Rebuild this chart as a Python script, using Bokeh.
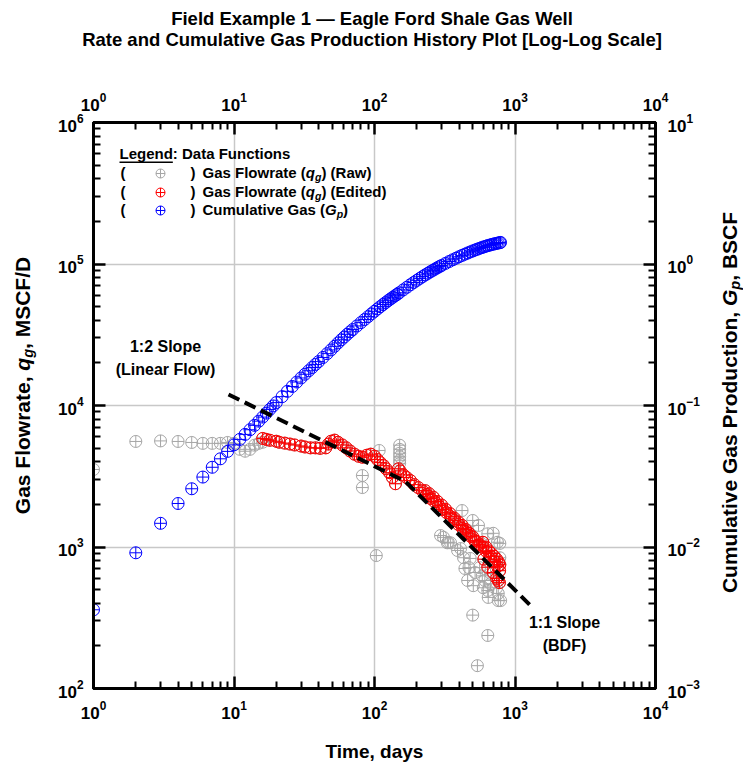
import math
from bokeh.plotting import figure
from bokeh.layouts import column, row
from bokeh.models import Range1d, LogScale, LogAxis, FixedTicker, Label, BoxAnnotation
from bokeh.embed import file_html
from bokeh.resources import INLINE

# ---------------- data ----------------
# Raw gas flowrate points that are not part of the edited set (early days + outliers)
raw_days = [1, 2, 3, 4, 5, 6, 7, 8, 9, 10, 11, 12, 13, 14, 15, 16,
            82, 82, 103, 108,
            151, 151, 151, 151, 151, 151,
            295, 310, 330, 335, 348, 390, 410, 420, 430, 440,
            460, 460, 470, 480, 500, 500, 505, 520, 540, 550,
            560, 585, 595, 610, 640, 640, 640, 645, 670, 670,
            700, 740, 750, 760, 760, 780, 780, 790]
raw_rate = [3530, 5570, 5620, 5570, 5480, 5400, 5400, 5400, 5480, 5400, 4900, 4750, 4900, 5240, 5400, 5500,
            3200, 2630, 870, 4810,
            5240, 4900, 4600, 4350, 4100, 3900,
            1205, 1170, 1070, 1080, 1070, 945, 975, 1810, 840, 705,
            1310, 580, 715, 830, 1540, 330, 533, 660, 145, 1420,
            715, 625, 515, 580, 1240, 493, 237, 440, 650, 550,
            1250, 515, 1080, 418, 470, 1060, 840, 418]

# Edited gas flowrate
edited_days = [16, 17, 18, 20, 21, 23, 25, 27, 30, 32, 35, 38, 41, 45, 47, 49, 52, 55, 59, 63,
               67, 72, 77, 82, 88, 94, 100, 105, 110, 116, 121, 128, 134, 141, 148, 152, 161, 169, 180, 192,
               205, 219, 235, 251, 268, 286, 305, 326, 348, 372, 397, 424, 452, 483, 516, 550, 587, 627, 670, 715,
               751, 777,
               230, 245, 262, 280, 300, 320, 345, 370, 395, 420, 445, 470, 500, 530, 560, 590, 620, 650, 680, 710,
               740, 765, 780,
               600, 640, 700, 740, 760, 775]
edited_rate = [5850, 5760, 5680, 5590, 5500, 5420, 5340, 5260, 5170, 5090, 5020, 5020, 4980, 5020, 5340, 5590, 5690, 5500, 5260, 5020,
               4770, 4530, 4380, 4310, 4450, 4530, 4380, 4150, 3950, 3760, 3570, 3350, 3100, 2800, 3570, 3450, 3230, 3100, 2950, 2760,
               2630, 2500, 2350, 2200, 2090, 1960, 1840, 1750, 1640, 1540, 1440, 1350, 1270, 1190, 1110, 1030, 1000, 930, 860, 790,
               730, 680,
               2500, 2380, 2250, 2100, 1980, 1850, 1720, 1600, 1500, 1420, 1330, 1250, 1180, 1100, 1040, 1080, 1000, 940, 900, 860,
               820, 780, 750,
               820, 720, 660, 600, 580, 560]

# Cumulative gas production, BSCF
cum_days = [1, 2, 3, 4, 5, 6, 7, 8, 9, 10, 11, 12, 13, 14, 15, 16, 17, 18, 19, 20,
            22, 24, 26, 28, 30, 32, 34, 36, 38, 40,
            43, 46, 49, 52, 55, 58, 61, 64, 67, 70,
            75, 80, 85, 90, 95, 100, 105, 110, 115, 120, 125, 130, 135, 140, 145, 150,
            160, 170, 180, 190, 200, 210, 220, 230, 240, 250, 260, 270, 280, 290, 300,
            320, 340, 360, 380, 400, 420, 440, 460, 480, 500, 520, 540, 560, 580, 600,
            620, 640, 660, 680, 700, 720, 740, 760, 780, 789]
cum_gp = [0.0036, 0.0091, 0.0147, 0.0203, 0.0258, 0.0312, 0.0366, 0.0420, 0.0474, 0.0527,
          0.0576, 0.0625, 0.0674, 0.0724, 0.0775, 0.0828, 0.0883, 0.0938, 0.0993, 0.1048,
          0.1155, 0.1260, 0.1363, 0.1465, 0.1565, 0.1663, 0.1760, 0.1855, 0.1950, 0.2043,
          0.2185, 0.2325, 0.2470, 0.2620, 0.2768, 0.2912, 0.3050, 0.3185, 0.3315, 0.3442,
          0.3650, 0.3852, 0.4050, 0.4245, 0.4440, 0.4630, 0.4815, 0.4995, 0.5170, 0.5340,
          0.5505, 0.5665, 0.5818, 0.5965, 0.6110, 0.6260,
          0.6560, 0.6850, 0.7130, 0.7400, 0.7660, 0.7910, 0.8150, 0.8380, 0.8600, 0.8810,
          0.9015, 0.9210, 0.9400, 0.9585, 0.9760,
          1.0095, 1.0410, 1.0705, 1.0985, 1.1250, 1.1500, 1.1735, 1.1955, 1.2165, 1.2365,
          1.2555, 1.2735, 1.2905, 1.3065, 1.3215, 1.3355, 1.3485, 1.3605, 1.3715, 1.3815,
          1.3905, 1.3990, 1.4070, 1.4150, 1.4200]

# Straight-line guides (1:2 slope then 1:1 slope)
guide_days = [9.14, 166, 1289]
guide_rate = [11970, 2905, 386]

x_ticks = [1, 10, 100, 1000, 10000]
q_ticks = [1e2, 1e3, 1e4, 1e5, 1e6]
gp_ticks = [1e-3, 1e-2, 1e-1, 1e0, 1e1]

TITLE1 = "Field Example 1 \u2014 Eagle Ford Shale Gas Well"
TITLE2 = "Rate and Cumulative Gas Production History Plot [Log-Log Scale]"

# ---------------- layout ----------------
W, H = 743, 767
FL, FR, FT, FB = 93, 655, 122, 688          # plot frame in page pixels
TOP_H = 70                                  # title strip height
SIDE_W = 40                                 # width of the side label strips
FONT = "Liberation Sans"
GRAY, RED, BLUE = "#a6a6a6", "#ff0000", "#0000ff"
BASE_FIX = 6                                # alphabetic baseline correction

def blank(width, height):
    f = figure(width=width, height=height, x_range=Range1d(0, 1), y_range=Range1d(0, 1),
               output_backend="svg", toolbar_location=None, x_axis_location=None,
               y_axis_location=None, min_border=0, outline_line_color=None)
    f.grid.visible = False
    f.background_fill_color = "white"
    f.border_fill_color = "white"
    return f

main_w = W - 2 * SIDE_W
main_h = H - TOP_H
p = figure(width=main_w, height=main_h, x_axis_type="log", y_axis_type="log",
           x_range=Range1d(1, 1e4), y_range=Range1d(1e2, 1e6),
           output_backend="svg", toolbar_location=None,
           min_border_left=FL - SIDE_W, min_border_right=(W - SIDE_W) - FR,
           min_border_top=FT - TOP_H, min_border_bottom=H - FB)
p.extra_y_ranges = {"gp": Range1d(1e-3, 1e1)}
p.extra_y_scales = {"gp": LogScale()}
p.add_layout(LogAxis(y_range_name="gp"), "right")
p.add_layout(LogAxis(), "above")

def minors(majors):
    out = []
    for m in majors[:-1]:
        out += [m * k for k in range(2, 10)]
    return out

for ax in p.xaxis:
    ax.ticker = FixedTicker(ticks=x_ticks, minor_ticks=minors(x_ticks))
    ax.major_label_standoff = 12
for ax in p.yaxis:
    if ax.y_range_name == "gp":
        ax.ticker = FixedTicker(ticks=gp_ticks, minor_ticks=minors(gp_ticks))
        ax.major_label_standoff = 12
    else:
        ax.ticker = FixedTicker(ticks=q_ticks, minor_ticks=minors(q_ticks))
        ax.major_label_standoff = 10
for ax in list(p.xaxis) + list(p.yaxis):
    ax.major_label_text_font = FONT
    ax.major_label_text_font_size = "17px"
    ax.major_label_text_font_style = "bold"
    ax.major_label_text_color = "black"
    ax.axis_line_width = 3
    ax.axis_line_color = "black"
    ax.major_tick_in = 12
    ax.major_tick_out = 0
    ax.minor_tick_in = 7
    ax.minor_tick_out = 0
    ax.major_tick_line_width = 2.5
    ax.minor_tick_line_width = 2
    ax.major_tick_line_color = "black"
    ax.minor_tick_line_color = "black"

p.below[0].axis_label = "Time, days"
p.below[0].axis_label_text_font = FONT
p.below[0].axis_label_text_font_size = "19px"
p.below[0].axis_label_text_font_style = "bold"
p.below[0].axis_label_text_color = "black"
p.below[0].axis_label_standoff = 19

p.xgrid.ticker = FixedTicker(ticks=x_ticks)
p.ygrid.ticker = FixedTicker(ticks=q_ticks)
p.grid.grid_line_color = "#c8c8c8"
p.grid.grid_line_width = 1.5
p.outline_line_color = "black"
p.outline_line_width = 3
p.background_fill_color = "white"
p.border_fill_color = "white"

# ---------------- data marks ----------------
raw_all_days = raw_days + edited_days
raw_all_rate = raw_rate + edited_rate
p.scatter(raw_all_days, raw_all_rate, marker="circle_cross", size=12,
          line_color=GRAY, fill_color=None, line_width=1)
p.scatter(edited_days, edited_rate, marker="circle_cross", size=12,
          line_color=RED, fill_color=None, line_width=1)
p.scatter(cum_days, cum_gp, y_range_name="gp", marker="circle_cross", size=12,
          line_color=BLUE, fill_color=None, line_width=1)
p.line(guide_days, guide_rate, line_color="black", line_width=4, line_dash="12 6")

# ---------------- text helpers ----------------
AW = {' ': 278, ',': 278, '(': 333, ')': 333, '[': 333, ']': 333, '-': 333, '/': 278, ':': 333,
      '.': 278, '\u2014': 1000,
      'A': 722, 'B': 722, 'C': 722, 'D': 722, 'E': 667, 'F': 611, 'G': 778, 'H': 722, 'I': 278,
      'L': 611, 'M': 833, 'P': 667, 'R': 722, 'S': 667, 'T': 611, 'W': 944,
      'a': 556, 'b': 611, 'c': 556, 'd': 611, 'e': 556, 'f': 333, 'g': 611, 'h': 611, 'i': 278,
      'k': 556, 'l': 278, 'm': 889, 'n': 611, 'o': 611, 'p': 611, 'q': 611, 'r': 389, 's': 556,
      't': 333, 'u': 611, 'v': 556, 'w': 778, 'x': 556, 'y': 556}

def tw(s, size):
    return sum(AW.get(c, 556) for c in s) * size / 1000.0

class Canvas:
    """A figure whose frame top-left sits at page pixel (ox, oy) and is h pixels tall."""
    def __init__(self, fig, ox, oy, h):
        self.fig, self.ox, self.oy, self.h = fig, ox, oy, h

    def put(self, text, X, Y, size, italic=False, align="left", rotated=False):
        if rotated:
            X -= BASE_FIX
        else:
            Y -= BASE_FIX
        self.fig.add_layout(Label(x=X - self.ox, y=(self.oy + self.h) - Y,
                                  x_units="screen", y_units="screen", text=text,
                                  text_font=FONT, text_font_size=f"{size}px",
                                  text_font_style="bold italic" if italic else "bold",
                                  text_color="black", text_align=align,
                                  text_baseline="alphabetic",
                                  angle=math.pi / 2 if rotated else 0.0))

    def rich(self, segs, X, Y, rotated=False, center=False):
        total = sum(tw(s[0], s[1]) for s in segs)
        pos = -total / 2 if center else 0
        for text, size, italic, dy in segs:
            if rotated:
                self.put(text, X + dy, Y - pos, size, italic, rotated=True)
            else:
                self.put(text, X + pos, Y + dy, size, italic)
            pos += tw(text, size)

def to_data(X, Y):
    t = 10 ** ((X - FL) / (FR - FL) * 4)
    q = 10 ** (2 + (FB - Y) / (FB - FT) * 4)
    return t, q

# ---------------- title strip ----------------
top = blank(W, TOP_H)
ct = Canvas(top, 0, 0, TOP_H)
ct.put(TITLE1, W / 2, 24, 18.5, align="center")
ct.put(TITLE2, W / 2, 45, 18.5, align="center")

# ---------------- side strips with rotated axis titles ----------------
# (the strips' frames are aligned with the main plot frame by the row layout)
left = blank(SIDE_W, main_h)
cl = Canvas(left, 0, FT, FB - FT)
cl.rich([("Gas Flowrate, ", 21, False, 0), ("q", 21, True, 0), ("g", 14.5, True, 5),
         (", MSCF/D", 21, False, 0)], 28, 385, rotated=True, center=True)
right = blank(SIDE_W, main_h)
cr = Canvas(right, W - SIDE_W, FT, FB - FT)
cr.rich([("Cumulative Gas Production, ", 21, False, 0), ("G", 21, True, 0), ("p", 14.5, True, 5),
         (", BSCF", 21, False, 0)], 735, 402, rotated=True, center=True)

# ---------------- annotations inside the frame ----------------
cm = Canvas(p, FL, FT, FB - FT)
cm.put("1:2 Slope", 165, 352, 16, align="center")
cm.put("(Linear Flow)", 165, 375, 16, align="center")
cm.put("1:1 Slope", 564, 628, 16, align="center")
cm.put("(BDF)", 564, 651, 16, align="center")

cm.put("Legend", 119, 159, 15)
cm.put(": Data Functions", 119 + tw("Legend", 15), 159, 15)
p.add_layout(BoxAnnotation(left=119 - FL, right=119 + tw("Legend", 15) - FL,
                           top=FB - 161, bottom=FB - 162.5,
                           left_units="screen", right_units="screen",
                           top_units="screen", bottom_units="screen",
                           fill_color="black", fill_alpha=1.0, line_color=None))
rows = [
    (178, GRAY, [("Gas Flowrate (", 15, False, 0), ("q", 15, True, 0), ("g", 10.5, True, 4), (") (Raw)", 15, False, 0)]),
    (197, RED, [("Gas Flowrate (", 15, False, 0), ("q", 15, True, 0), ("g", 10.5, True, 4), (") (Edited)", 15, False, 0)]),
    (215, BLUE, [("Cumulative Gas (", 15, False, 0), ("G", 15, True, 0), ("p", 10.5, True, 4), (")", 15, False, 0)]),
]
for Y, col, segs in rows:
    cm.put("(", 120, Y, 15)
    cm.put(")", 190, Y, 15)
    cm.rich(segs, 202, Y)
    t, q = to_data(160, Y - 5)
    p.scatter([t], [q], marker="circle_cross", size=9, line_color=col, fill_color=None, line_width=1)

layout = column(top, row(left, p, right, spacing=0), spacing=0)
open("out.html", "w").write(file_html(layout, INLINE))
